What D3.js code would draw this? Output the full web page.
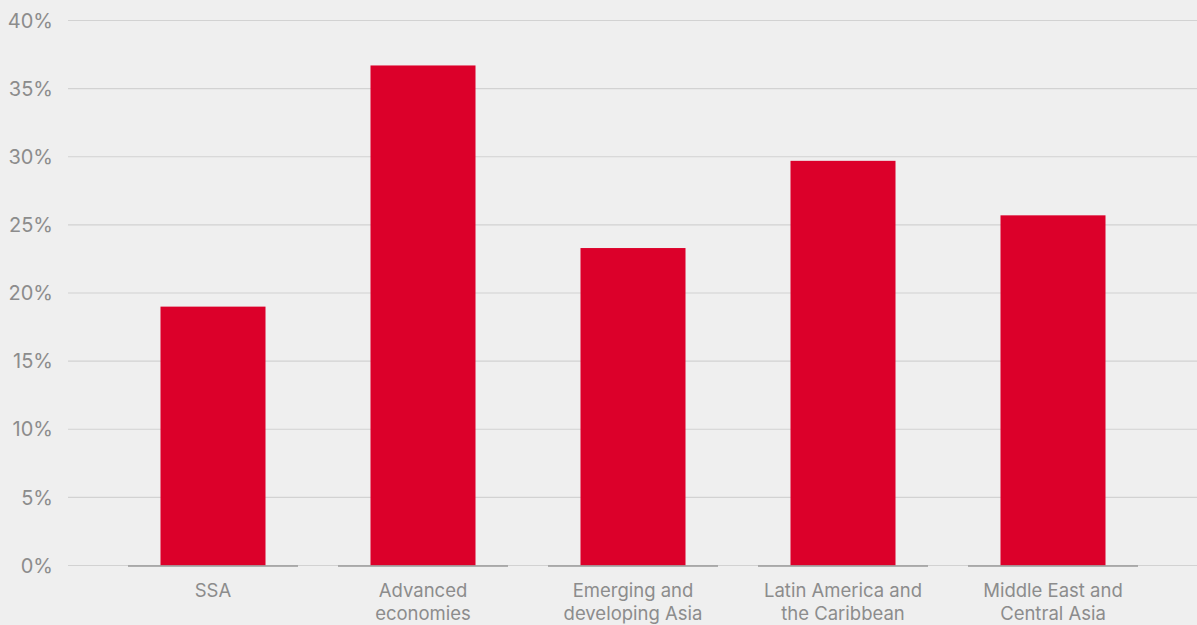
<!DOCTYPE html>
<html><head><meta charset="utf-8">
<script src="https://cdn.jsdelivr.net/npm/d3@7"></script>
<style>
html,body{margin:0;padding:0;background:#efefef;}
svg{display:block;font-family:Inter, "Noto Sans", sans-serif;}
</style></head>
<body><svg id="c" width="1197" height="625"></svg>
<script>
const categories = [["SSA"],["Advanced","economies"],["Emerging and","developing Asia"],["Latin America and","the Caribbean"],["Middle East and","Central Asia"]];
const values = [19.0, 36.7, 23.3, 29.7, 25.7];
const yTicks = [0,5,10,15,20,25,30,35,40];

const svg = d3.select("#c");
const keys = categories.map(c=>c.join(" "));
const x = d3.scaleBand().domain(keys).range([108,1158]).paddingInner(0.5).paddingOuter(0.25);
const y = d3.scaleLinear().domain([0,40]).range([565.5,20.5]);

// gridlines
svg.append("g").selectAll("line").data(yTicks).join("line")
  .attr("x1",68).attr("x2",1197)
  .attr("y1",d=>y(d)).attr("y2",d=>y(d))
  .attr("stroke","#d2d2d2").attr("stroke-width",1.2);

// y labels
svg.append("g").selectAll("text").data(yTicks).join("text")
  .attr("x",53).attr("y",d=>y(d)).attr("dy","0.36em")
  .attr("text-anchor","end").attr("fill","#8c8c8c").attr("font-size",20)
  .text(d=>d+"%");

// bars
svg.append("g").selectAll("rect").data(values).join("rect")
  .attr("x",(d,i)=>x(keys[i])).attr("width",x.bandwidth())
  .attr("y",d=>y(d)).attr("height",d=>y(0)-y(d))
  .attr("fill","#dc002a");

// baseline segments
svg.append("g").selectAll("line").data(keys).join("line")
  .attr("x1",k=>x(k)+x.bandwidth()/2-85).attr("x2",k=>x(k)+x.bandwidth()/2+85)
  .attr("y1",y(0)+0.5).attr("y2",y(0)+0.5)
  .attr("stroke","#9a9a9a").attr("stroke-width",1.5);

// x labels
const xl = svg.append("g").selectAll("text").data(categories).join("text")
  .attr("x",(d,i)=>x(keys[i])+x.bandwidth()/2).attr("y",597)
  .attr("text-anchor","middle").attr("fill","#8c8c8c").attr("font-size",18.5);
xl.selectAll("tspan").data(d=>d).join("tspan")
  .attr("x",function(){return this.parentNode.getAttribute("x");})
  .attr("dy",(d,i)=>i===0?0:23).text(d=>d);
</script></body></html>
